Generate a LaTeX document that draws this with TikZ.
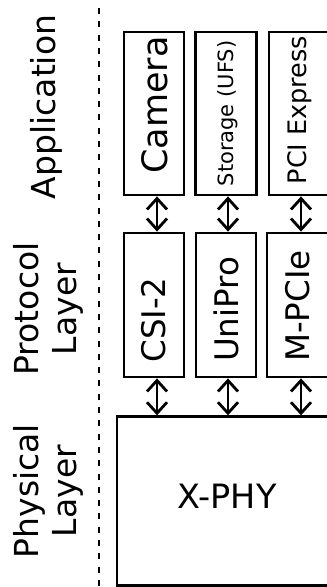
\documentclass[tikz,border=0pt]{standalone}
\usepackage{fontspec}
\setmainfont{DejaVu Sans}
\usetikzlibrary{arrows.meta}
\begin{document}
\begin{tikzpicture}[x=1pt,y=-1pt,
  boxx/.style={draw, line width=2.8pt, inner sep=0pt},
  txt/.style={rotate=90, inner sep=0pt, anchor=center},
  link/.style={line width=2.8pt, {Straight Barb[length=11pt,width=20pt]}-{Straight Barb[length=11pt,width=20pt]}},
  sep/.style={line width=2.2pt, dash pattern=on 6pt off 7.3pt},
  big/.style={font=\fontsize{33}{38}\selectfont}]
\useasboundingbox (0,0) rectangle (327,587);
\clip (0,0) rectangle (327,587);
% dashed separator
\coordinate (dtop) at (99,8);
\coordinate (dbot) at (99,590);
\draw[sep] (dtop) -- (dbot);
% layer labels
\node[txt, big] (lapp) at (46,107) {Application};
\node[txt, big, align=center] (lpro) at (48.5,309) {Protocol\\Layer};
\node[txt, big, align=center] (lphy) at (48.5,491) {Physical\\Layer};
% application boxes
\node[boxx, minimum width=60pt, minimum height=163pt] (cam) at (154,113.5) {};
\node[boxx, minimum width=61pt, minimum height=163pt] (sto) at (226,113.5) {};
\node[boxx, minimum width=62pt, minimum height=163pt] (pci) at (300,113.5) {};
% protocol boxes
\node[boxx, minimum width=60pt, minimum height=144pt] (csi) at (154,305) {};
\node[boxx, minimum width=60pt, minimum height=144pt] (uni) at (226,305) {};
\node[boxx, minimum width=64pt, minimum height=144pt] (mpc) at (299,305) {};
% physical box
\node[boxx, minimum width=224pt, minimum height=169pt] (phy) at (229,501.2) {};
% texts
\node[txt, font=\fontsize{35}{40}\selectfont] (camT) at (155,105) {Camera};
\node[txt, font=\fontsize{21}{24}\selectfont] (stoT) at (227.5,113.5) {Storage (UFS)};
\node[txt, font=\fontsize{25.5}{28}\selectfont] (pciT) at (300,110) {PCI Express};
\node[txt, font=\fontsize{32.5}{36}\selectfont] (csiT) at (154,320) {CSI-2};
\node[txt, font=\fontsize{32.5}{36}\selectfont] (uniT) at (226,309.5) {UniPro};
\node[txt, font=\fontsize{32.5}{36}\selectfont] (mpcT) at (297.5,306) {M-PCIe};
\node[inner sep=0pt, font=\fontsize{33.5}{36}\selectfont] (phyT) at (227,496.5) {X-PHY};
% connectors
\draw[link] ([xshift=3pt]cam.south) -- ([xshift=3pt]cam.south |- csi.north);
\draw[link] ([xshift=2pt]sto.south) -- ([xshift=2pt]sto.south |- uni.north);
\draw[link] ([xshift=1pt]pci.south) -- ([xshift=1pt]pci.south |- mpc.north);
\draw[link] ([xshift=3pt]csi.south) -- ([xshift=3pt]csi.south |- phy.north);
\draw[link] ([xshift=2pt]uni.south) -- ([xshift=2pt]uni.south |- phy.north);
\draw[link] ([xshift=2pt]mpc.south) -- ([xshift=2pt]mpc.south |- phy.north);
\end{tikzpicture}
\end{document}
